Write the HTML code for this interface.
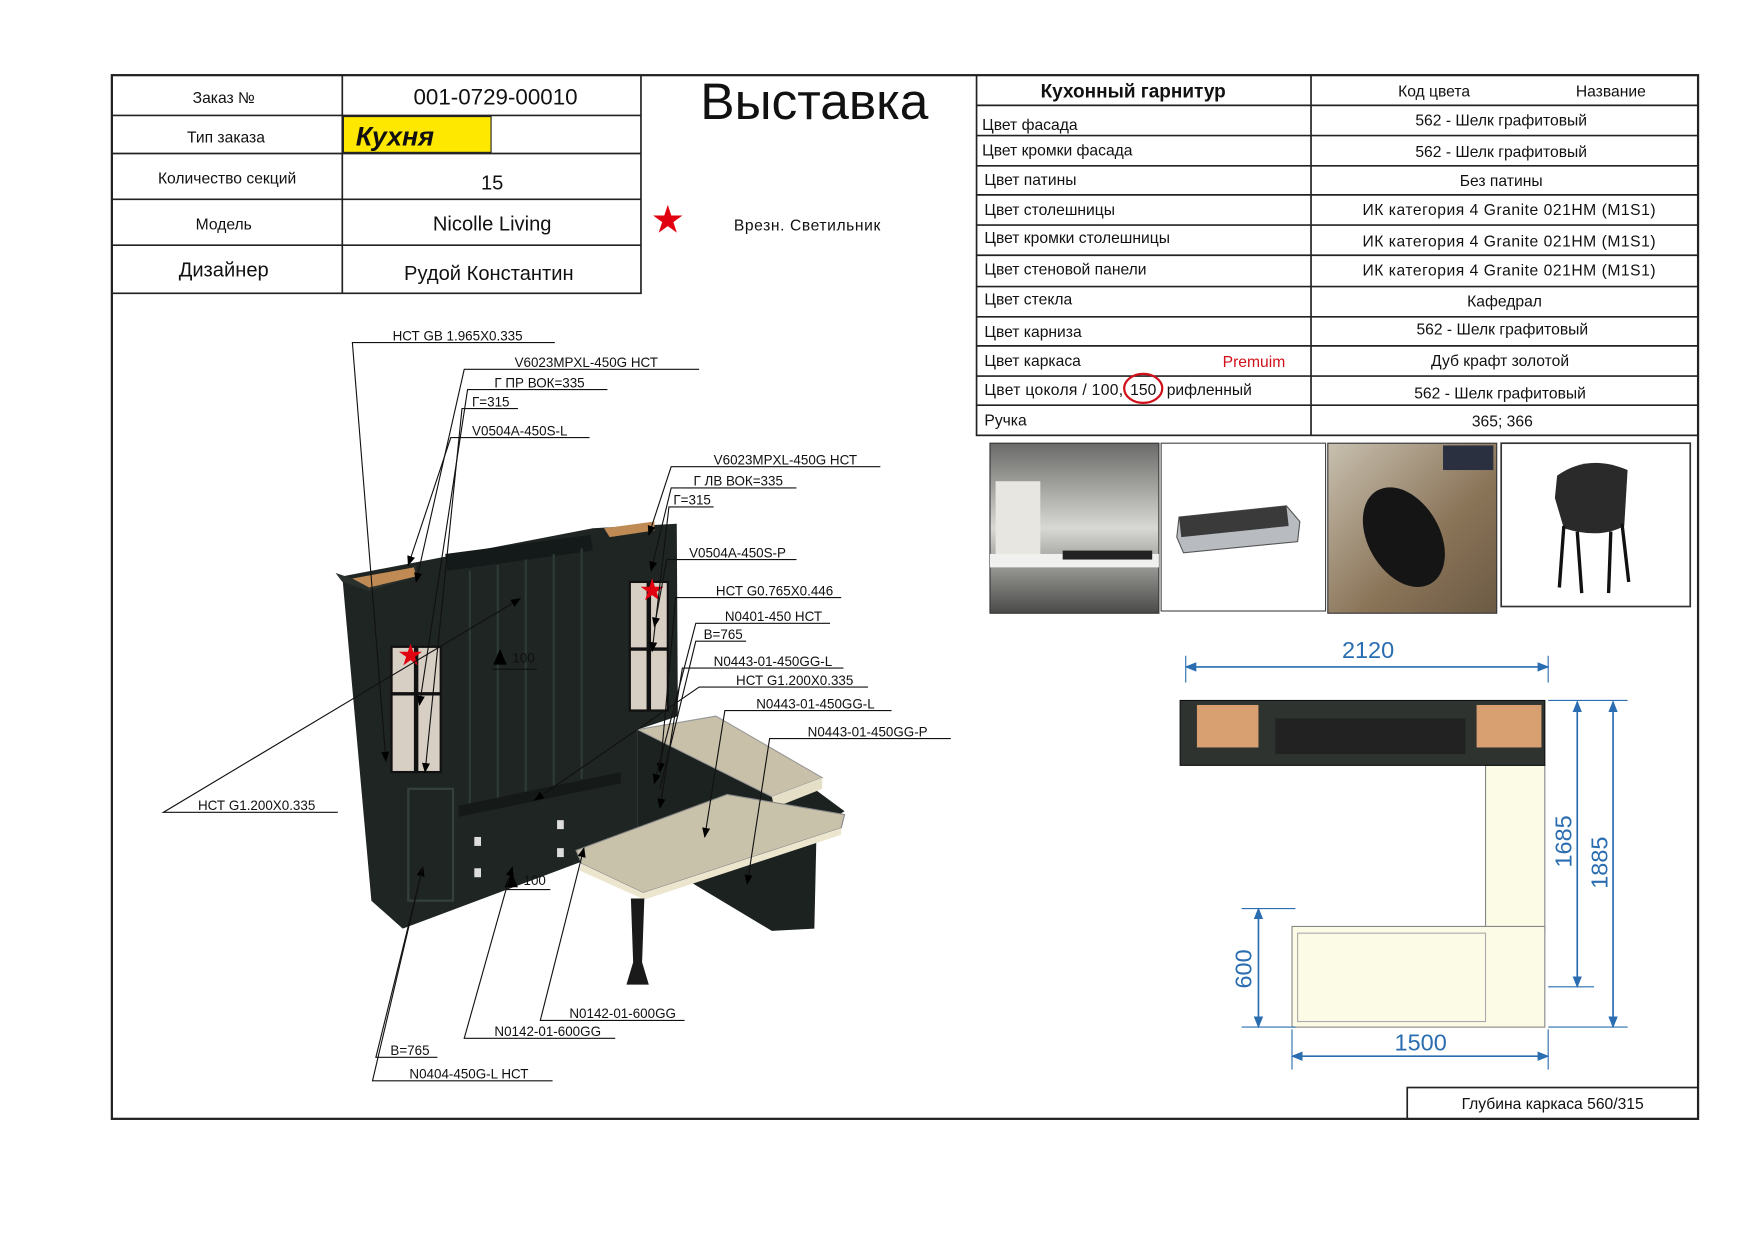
<!DOCTYPE html>
<html><head><meta charset="utf-8"><style>
html,body{margin:0;padding:0;background:#fff}
svg{display:block}
text{font-family:"Liberation Sans","Noto Sans CJK SC",sans-serif;fill:#111}
.l{font-size:13px}
.t{font-size:14px}
.c{font-size:12px;}
</style></head><body>
<svg width="1754" height="1241" viewBox="0 0 1568 1109" xmlns="http://www.w3.org/2000/svg">
<defs>
<marker id="a" viewBox="0 0 10 10" refX="9" refY="5" markerWidth="9" markerHeight="9" orient="auto"><path d="M0,1 L10,5 L0,9 z" fill="#000"/></marker>
<marker id="b" viewBox="0 0 10 10" refX="9" refY="5" markerWidth="7" markerHeight="7" orient="auto"><path d="M0,1 L10,5 L0,9 z" fill="#2a6db0"/></marker>
<marker id="b2" viewBox="0 0 10 10" refX="1" refY="5" markerWidth="7" markerHeight="7" orient="auto"><path d="M10,1 L0,5 L10,9 z" fill="#2a6db0"/></marker>
<linearGradient id="g1" x1="0" y1="0" x2="0" y2="1"><stop offset="0" stop-color="#6a6a68"/><stop offset=".5" stop-color="#d8d8d4"/><stop offset="1" stop-color="#4a4a48"/></linearGradient>
<linearGradient id="g3" x1="0" y1="0" x2="1" y2="1"><stop offset="0" stop-color="#c8c0b0"/><stop offset=".6" stop-color="#8a7458"/><stop offset="1" stop-color="#6c5a44"/></linearGradient>
</defs>
<rect x="100" y="67" width="1418" height="933" fill="none" stroke="#222" stroke-width="2"/>
<g stroke="#222" stroke-width="1.5" fill="none">
<rect x="100" y="67" width="473" height="195"/>
<line x1="306" y1="67" x2="306" y2="262"/>
<line x1="100" y1="103" x2="573" y2="103"/>
<line x1="100" y1="137" x2="573" y2="137"/>
<line x1="100" y1="178" x2="573" y2="178"/>
<line x1="100" y1="219" x2="573" y2="219"/>
</g>
<rect x="307" y="104" width="132" height="32" fill="#ffe800" stroke="#222" stroke-width="1"/>
<text x="200" y="92" class="t" text-anchor="middle">Заказ №</text>
<text x="443" y="93" font-size="20" text-anchor="middle">001-0729-00010</text>
<text x="202" y="127" class="t" text-anchor="middle">Тип заказа</text>
<text x="318" y="130" font-size="24" font-weight="bold" font-style="italic" fill="#222">Кухня</text>
<text x="203" y="164" class="t" text-anchor="middle">Количество секций</text>
<text x="440" y="169" font-size="18" text-anchor="middle">15</text>
<text x="200" y="205" class="t" text-anchor="middle">Модель</text>
<text x="440" y="206" font-size="18" text-anchor="middle">Nicolle Living</text>
<text x="200" y="247" font-size="18" text-anchor="middle">Дизайнер</text>
<text x="437" y="250" font-size="18" text-anchor="middle">Рудой Константин</text>
<text x="728" y="106" font-size="46" text-anchor="middle">Выставка</text>
<text x="597" y="206" font-size="28" text-anchor="middle" style="fill:#e00010">★</text>
<text x="656" y="206" class="t" textLength="131">Врезн. Светильник</text>
<g stroke="#222" stroke-width="1.5" fill="none">
<rect x="873" y="67" width="645" height="322"/>
<line x1="1172" y1="67" x2="1172" y2="389"/>
<line x1="873" y1="94" x2="1518" y2="94"/>
<line x1="873" y1="121" x2="1518" y2="121"/>
<line x1="873" y1="148" x2="1518" y2="148"/>
<line x1="873" y1="174" x2="1518" y2="174"/>
<line x1="873" y1="201" x2="1518" y2="201"/>
<line x1="873" y1="228" x2="1518" y2="228"/>
<line x1="873" y1="256" x2="1518" y2="256"/>
<line x1="873" y1="283" x2="1518" y2="283"/>
<line x1="873" y1="309" x2="1518" y2="309"/>
<line x1="873" y1="336" x2="1518" y2="336"/>
<line x1="873" y1="362" x2="1518" y2="362"/>
</g>
<text x="1013" y="87" font-size="17" font-weight="bold" text-anchor="middle">Кухонный гарнитур</text>
<text x="1282" y="86" class="t" text-anchor="middle">Код цвета</text>
<text x="1440" y="86" class="t" text-anchor="middle">Название</text>
<text x="878" y="116" class="t">Цвет фасада</text>
<text x="878" y="139" class="t">Цвет кромки фасада</text>
<text x="880" y="165" class="t">Цвет патины</text>
<text x="880" y="192" class="t">Цвет столешницы</text>
<text x="880" y="217" class="t">Цвет кромки столешницы</text>
<text x="880" y="245" class="t">Цвет стеновой панели</text>
<text x="880" y="272" class="t">Цвет стекла</text>
<text x="880" y="301" class="t">Цвет карниза</text>
<text x="880" y="327" class="t">Цвет каркаса</text>
<text x="1093" y="328" class="t" style="fill:#d0101a">Premuim</text>
<text x="880" y="353" class="t" textLength="124">Цвет цоколя / 100,</text>
<text x="1022" y="353" class="t" text-anchor="middle">150</text>
<text x="1043" y="353" class="t">рифленный</text>
<text x="880" y="380" class="t">Ручка</text>
<text x="1342" y="112" class="t" text-anchor="middle">562 - Шелк графитовый</text>
<text x="1342" y="140" class="t" text-anchor="middle">562 - Шелк графитовый</text>
<text x="1342" y="166" class="t" text-anchor="middle">Без патины</text>
<text x="1349" y="192" class="t" text-anchor="middle" textLength="262">ИК категория 4 Granite 021HM (M1S1)</text>
<text x="1349" y="220" class="t" text-anchor="middle" textLength="262">ИК категория 4 Granite 021HM (M1S1)</text>
<text x="1349" y="246" class="t" text-anchor="middle" textLength="262">ИК категория 4 Granite 021HM (M1S1)</text>
<text x="1345" y="274" class="t" text-anchor="middle">Кафедрал</text>
<text x="1343" y="299" class="t" text-anchor="middle">562 - Шелк графитовый</text>
<text x="1341" y="327" class="t" text-anchor="middle">Дуб крафт золотой</text>
<text x="1341" y="356" class="t" text-anchor="middle">562 - Шелк графитовый</text>
<text x="1343" y="381" class="t" text-anchor="middle">365; 366</text>
<ellipse cx="1022" cy="347" rx="17" ry="13" fill="none" stroke="#d0101a" stroke-width="2"/>
<rect x="885" y="396" width="151" height="152" fill="url(#g1)" stroke="#333"/>
<rect x="890" y="430" width="40" height="70" fill="#e8e6e0"/>
<rect x="885" y="495" width="151" height="12" fill="#f0f0ee"/>
<rect x="950" y="492" width="80" height="8" fill="#222"/>
<rect x="1038" y="396" width="147" height="150" fill="#fff" stroke="#444"/>
<polygon points="1054,462 1150,452 1162,466 1160,484 1058,494 1052,480" fill="#b8bcc0" stroke="#555"/>
<polygon points="1054,462 1150,452 1152,470 1056,480" fill="#3a3a3a"/>
<rect x="1187" y="396" width="151" height="152" fill="url(#g3)" stroke="#333"/>
<ellipse cx="1255" cy="480" rx="32" ry="48" transform="rotate(-30 1255 480)" fill="#151515"/>
<rect x="1290" y="398" width="45" height="22" fill="#2a3040"/>
<rect x="1342" y="396" width="169" height="146" fill="#fff" stroke="#333" stroke-width="1.5"/>
<path d="M1392,425 Q1420,405 1455,420 L1452,470 Q1430,482 1398,472 L1390,445 Z" fill="#2a2a2a"/>
<path d="M1398,470 L1394,525 M1410,475 L1414,530 M1440,475 L1438,530 M1450,468 L1456,520" stroke="#111" stroke-width="3"/>
<line x1="1060" y1="596" x2="1384" y2="596" stroke="#2a6db0" stroke-width="1.5" marker-start="url(#b2)" marker-end="url(#b)"/>
<line x1="1060" y1="586" x2="1060" y2="610" stroke="#2a6db0"/><line x1="1384" y1="586" x2="1384" y2="610" stroke="#2a6db0"/>
<text x="1223" y="588" font-size="21" text-anchor="middle" style="fill:#2a6db0">2120</text>
<rect x="1328" y="684" width="53" height="150" fill="#fbfbe6" stroke="#888"/>
<rect x="1155" y="828" width="226" height="90" fill="#fbfbe6" stroke="#888"/>
<rect x="1160" y="834" width="168" height="79" fill="none" stroke="#aaa"/>
<rect x="1055" y="626" width="326" height="58" fill="#2e3330" stroke="#111"/>
<rect x="1070" y="630" width="55" height="38" fill="#d8a070"/>
<rect x="1320" y="630" width="58" height="38" fill="#d8a070"/>
<rect x="1140" y="642" width="170" height="32" fill="#222"/>
<g stroke="#2a6db0" stroke-width="1.5">
<line x1="1410" y1="627" x2="1410" y2="882" marker-start="url(#b2)" marker-end="url(#b)"/>
<line x1="1442" y1="627" x2="1442" y2="918" marker-start="url(#b2)" marker-end="url(#b)"/>
<line x1="1125" y1="812" x2="1125" y2="918" marker-start="url(#b2)" marker-end="url(#b)"/>
<line x1="1155" y1="944" x2="1384" y2="944" marker-start="url(#b2)" marker-end="url(#b)"/>
<line x1="1384" y1="626" x2="1455" y2="626" stroke-width="1"/>
<line x1="1384" y1="882" x2="1425" y2="882" stroke-width="1"/>
<line x1="1384" y1="918" x2="1455" y2="918" stroke-width="1"/>
<line x1="1110" y1="812" x2="1158" y2="812" stroke-width="1"/>
<line x1="1110" y1="918" x2="1158" y2="918" stroke-width="1"/>
<line x1="1155" y1="920" x2="1155" y2="956" stroke-width="1"/>
<line x1="1384" y1="920" x2="1384" y2="956" stroke-width="1"/>
</g>
<text x="1270" y="939" font-size="21" text-anchor="middle" style="fill:#2a6db0">1500</text>
<text transform="translate(1405,752) rotate(-90)" font-size="21" text-anchor="middle" style="fill:#2a6db0">1685</text>
<text transform="translate(1437,771) rotate(-90)" font-size="21" text-anchor="middle" style="fill:#2a6db0">1885</text>
<text transform="translate(1119,866) rotate(-90)" font-size="21" text-anchor="middle" style="fill:#2a6db0">600</text>
<rect x="1258" y="972" width="260" height="28" fill="none" stroke="#222" stroke-width="1.5"/>
<text x="1388" y="991" class="t" text-anchor="middle">Глубина каркаса 560/315</text>
<!-- cabinet -->
<polygon points="306,515 385,500 530,472 605,468 606,640 570,652 570,740 520,770 360,830 332,805" fill="#1f2522"/>
<polygon points="300,512 330,522 372,505 372,515 330,528 306,520" fill="#2a302c"/>
<polygon points="315,517 370,507 372,515 330,525" fill="#c08a55"/>
<polygon points="540,472 585,466 585,474 545,480" fill="#c08a55"/>
<polygon points="398,495 528,478 530,492 400,510" fill="#14191a"/>
<g stroke="#2d3a34" stroke-width="2"><line x1="420" y1="510" x2="420" y2="720"/><line x1="445" y1="505" x2="445" y2="715"/><line x1="470" y1="500" x2="470" y2="708"/><line x1="495" y1="495" x2="495" y2="702"/><line x1="520" y1="490" x2="520" y2="696"/></g>
<polygon points="410,720 555,690 555,700 410,730" fill="#151a18"/>
<rect x="350" y="578" width="44" height="112" fill="#d8cfc4" stroke="#111" stroke-width="2"/>
<line x1="372" y1="578" x2="372" y2="690" stroke="#111" stroke-width="4"/><line x1="350" y1="620" x2="394" y2="620" stroke="#111" stroke-width="3"/>
<rect x="563" y="520" width="34" height="115" fill="#d8cfc4" stroke="#111" stroke-width="2"/>
<line x1="580" y1="520" x2="580" y2="635" stroke="#111" stroke-width="4"/><line x1="563" y1="580" x2="597" y2="580" stroke="#111" stroke-width="3"/>
<rect x="365" y="705" width="40" height="100" fill="none" stroke="#34403a" stroke-width="2"/>
<g fill="#ddd"><rect x="424" y="748" width="6" height="8"/><rect x="424" y="776" width="6" height="8"/><rect x="498" y="733" width="6" height="8"/><rect x="498" y="758" width="6" height="8"/></g>
<polygon points="570,652 640,640 755,725 730,740 728,830 690,832 620,790 570,760" fill="#1c221f"/>
<polygon points="570,652 640,640 735,695 690,712" fill="#c8c0a8" stroke="#999"/>
<polygon points="690,712 735,695 735,705 692,722" fill="#e6dfc8"/>
<polygon points="515,760 650,710 755,728 752,740 575,798 520,772" fill="#c9c2ab" stroke="#888"/>
<polygon points="520,772 575,798 752,740 752,746 576,804 518,778" fill="#ece6cf"/>
<path d="M564,803 L576,803 L574,860 L580,880 L560,880 L566,860 Z" fill="#1a1a1a"/>
<text x="367" y="593" font-size="22" text-anchor="middle" style="fill:#e00010">★</text>
<text x="583" y="535" font-size="22" text-anchor="middle" style="fill:#e00010">★</text>
<path d="M441,594 L447,580 L453,594 Z" fill="#000"/>
<text x="458" y="592" class="c">100</text>
<path d="M451,793 L457,779 L463,793 Z" fill="#000"/>
<text x="468" y="791" class="c">100</text>
<g stroke="#111" stroke-width="1" fill="none">
<polyline points="496,306 315,306 345,680" marker-end="url(#a)"/>
<polyline points="625,330 415,330 372,520" marker-end="url(#a)"/>
<polyline points="543,348 418,348 375,630" marker-end="url(#a)"/>
<polyline points="463,365 413,365 380,690" marker-end="url(#a)"/>
<polyline points="527,391 403,391 365,505" marker-end="url(#a)"/>
<polyline points="787,417 600,417 580,478" marker-end="url(#a)"/>
<polyline points="712,436 600,436 582,510" marker-end="url(#a)"/>
<polyline points="638,453 598,453 583,582" marker-end="url(#a)"/>
<polyline points="712,500 596,500 585,560" marker-end="url(#a)"/>
<polyline points="752,534 604,534 590,690" marker-end="url(#a)"/>
<polyline points="742,557 622,557 585,700" marker-end="url(#a)"/>
<polyline points="667,573 622,573 590,705"/>
<polyline points="754,597 610,597 590,722" marker-end="url(#a)"/>
<polyline points="776,614 625,614 478,715" marker-end="url(#a)"/>
<polyline points="797,635 648,635 630,748" marker-end="url(#a)"/>
<polyline points="850,660 688,660 668,790" marker-end="url(#a)"/>
<polyline points="302,726 146,726 465,535" marker-end="url(#a)"/>
<polyline points="612,912 483,912 522,758" marker-end="url(#a)"/>
<polyline points="550,928 415,928 458,775" marker-end="url(#a)"/>
<polyline points="391,945 336,945 378,775" marker-end="url(#a)"/>
<polyline points="494,966 333,966 378,775"/>
<polyline points="480,598 440,598"/>
<polyline points="492,795 452,795"/>
</g>
<text x="351" y="304" class="c">НСТ GB 1.965X0.335</text>
<text x="460" y="328" class="c">V6023MPXL-450G НСТ</text>
<text x="442" y="346" class="c">Г ПР ВОК=335</text>
<text x="422" y="363" class="c">Г=315</text>
<text x="422" y="389" class="c">V0504A-450S-L</text>
<text x="638" y="415" class="c">V6023MPXL-450G НСТ</text>
<text x="620" y="434" class="c">Г ЛВ ВОК=335</text>
<text x="602" y="451" class="c">Г=315</text>
<text x="616" y="498" class="c">V0504A-450S-P</text>
<text x="640" y="532" class="c">НСТ G0.765X0.446</text>
<text x="648" y="555" class="c">N0401-450 НСТ</text>
<text x="629" y="571" class="c">В=765</text>
<text x="638" y="595" class="c">N0443-01-450GG-L</text>
<text x="658" y="612" class="c">НСТ G1.200X0.335</text>
<text x="676" y="633" class="c">N0443-01-450GG-L</text>
<text x="722" y="658" class="c">N0443-01-450GG-P</text>
<text x="177" y="724" class="c">НСТ G1.200X0.335</text>
<text x="509" y="910" class="c">N0142-01-600GG</text>
<text x="442" y="926" class="c">N0142-01-600GG</text>
<text x="349" y="943" class="c">В=765</text>
<text x="366" y="964" class="c">N0404-450G-L НСТ</text>
</svg>
</body></html>
